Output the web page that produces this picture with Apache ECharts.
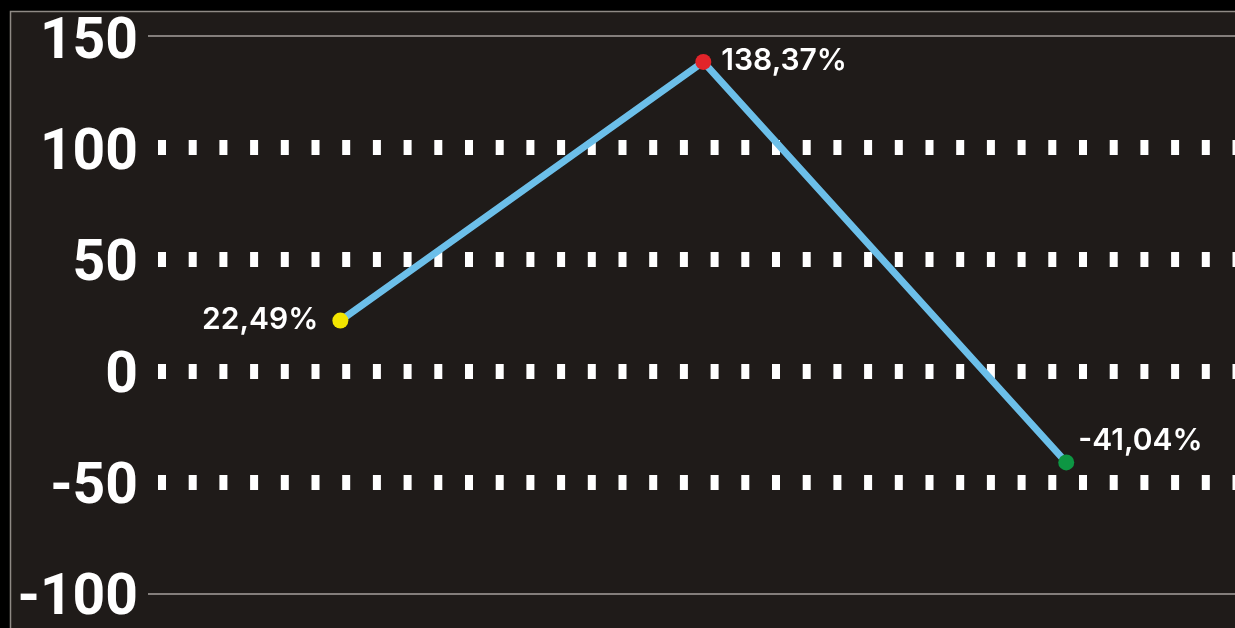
<!DOCTYPE html>
<html>
<head>
<meta charset="utf-8">
<style>html,body{margin:0;padding:0;background:#000;}#c{width:1235px;height:628px;}</style>
<script src="https://cdn.jsdelivr.net/npm/echarts@6/dist/echarts.min.js"></script>
</head>
<body>
<div id="c"></div>
<script>
const xIndex = [1, 2, 3];
const values = [22.49, 138.37, -41.04];
const pointColors = ['#f2e500', '#e2242a', '#0d9643'];
const labelPositions = ['left', 'right', 'right'];
const yTicks = [-100, -50, 0, 50, 100, 150];

const chart = echarts.init(document.getElementById('c'), null, {renderer: 'canvas'});
const fmt = v => v.toFixed(2).replace('.', ',') + '%';

const data = values.map((v, i) => ({
  value: [xIndex[i], v],
  itemStyle: {color: pointColors[i]},
  label: {
    show: true,
    position: labelPositions[i],
    distance: i === 0 ? 14 : 10,
    offset: i === 2 ? [-6, -21] : [0, -1],
    formatter: () => fmt(v)
  }
}));

chart.setOption({
  backgroundColor: '#000',
  animation: false,
  graphic: [{
    type: 'rect', z: -10, silent: true,
    shape: {x: 10.5, y: 11.5, width: 1400, height: 700},
    style: {fill: '#1f1b19', stroke: '#8f8a85', lineWidth: 1.5}
  }],
  grid: [
    {left: 148, right: 0, top: 36, bottom: 34},
    {left: 158, right: 0, top: 147.6, bottom: 145.6},
    {left: 148, right: 0, top: 44, bottom: 26}
  ],
  xAxis: [
    {gridIndex: 0, type: 'value', min: 0.47, max: 3.465, show: false},
    {gridIndex: 1, type: 'value', min: 0, max: 1, show: false},
    {gridIndex: 2, type: 'value', min: 0, max: 1, show: false}
  ],
  yAxis: [
    {
      gridIndex: 0, type: 'value', min: -100, max: 150, interval: 50,
      axisLine: {show: false}, axisTick: {show: false}, axisLabel: {show: false},
      splitLine: {show: true, lineStyle: {
        color: ['#a6a19c', 'rgba(0,0,0,0)', 'rgba(0,0,0,0)', 'rgba(0,0,0,0)', 'rgba(0,0,0,0)', '#a6a19c'],
        width: 1.5
      }}
    },
    {
      gridIndex: 1, type: 'value', min: -50, max: 100, interval: 50,
      axisLine: {show: false}, axisTick: {show: false}, axisLabel: {show: false},
      splitLine: {show: true, lineStyle: {color: '#ffffff', width: 15, type: [8, 22.7], cap: 'butt'}}
    },
    {
      gridIndex: 2, type: 'value', min: -100, max: 150, interval: 50,
      axisLine: {show: false}, axisTick: {show: false}, splitLine: {show: false},
      axisLabel: {
        color: '#ffffff', fontFamily: 'Roboto', fontWeight: 'bold', fontSize: 57,
        margin: 10,
        formatter: v => yTicks.includes(v) ? String(v) : ''
      }
    }
  ],
  series: [{
    type: 'line',
    xAxisIndex: 0, yAxisIndex: 0,
    data: data,
    symbol: 'circle', symbolSize: 16,
    lineStyle: {color: '#6cbfe9', width: 7},
    label: {color: '#ffffff', fontFamily: 'Inter', fontWeight: 600, fontSize: 30},
    z: 5
  }]
});
</script>
</body>
</html>
